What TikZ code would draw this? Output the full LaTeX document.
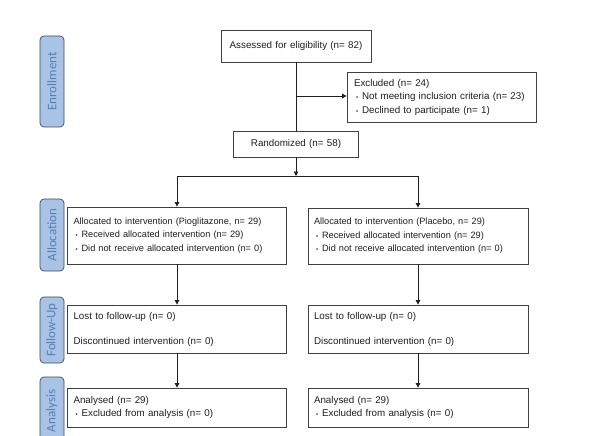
\documentclass[tikz,border=0pt]{standalone}
\usepackage{fontspec}
\setmainfont{Liberation Sans}
\newfontfamily\tabfont{Carlito}
\usetikzlibrary{arrows.meta}
\definecolor{tabfill}{HTML}{A9C3E6}
\definecolor{tabdraw}{HTML}{3F4A5C}
\definecolor{tabtext}{HTML}{5A7DB5}
\newcommand\bul{\hspace*{2pt}{\fontsize{6}{6}\selectfont\textbullet}\hspace{4pt}}
\tikzset{
  box/.style={draw=black!75, line width=0.8pt, fill=white, align=left,
    inner xsep=6pt, inner ysep=0pt, font=\fontsize{9.8}{13.5}\selectfont, text=black!88},
  smallbox/.style={box, font=\fontsize{9.2}{13.5}\selectfont},
  tab/.style={draw=tabdraw, line width=0.7pt, fill=tabfill, rounded corners=4pt, rotate=90,
    inner sep=0pt, font=\tabfont\fontsize{13}{13}\selectfont, text=tabtext},
  arr/.style={-{Triangle[length=4.5pt,width=4.5pt]}, line width=0.9pt, black!88},
  ln/.style={line width=0.9pt, black!88}
}
\begin{document}
\begin{tikzpicture}[x=1pt,y=-1pt]
\useasboundingbox (0,0) rectangle (598,436);
% tabs
\node[tab, minimum width=91pt, minimum height=24pt] (tEnr) at (52,81.5) {Enrollment};
\node[tab, minimum width=72pt, minimum height=24pt] (tAll) at (52,235) {Allocation};
\node[tab, minimum width=66pt, minimum height=24pt] (tFol) at (52,330) {Follow-Up};
\node[tab, minimum width=68pt, minimum height=24pt] (tAna) at (52,411) {Analysis};
% boxes
\node[box, align=center, text width=138pt, minimum height=32pt] (assess) at (296,46) {Assessed for eligibility (n= 82)};
\node[box, text width=175pt, minimum height=50pt, inner xsep=7pt] (excl) at (441.5,97)
  {Excluded (n= 24)\\ \bul Not meeting inclusion criteria (n= 23)\\ \bul Declined to participate (n= 1)};
\node[box, align=center, text width=113pt, minimum height=26pt] (rand) at (296,144) {Randomized (n= 58)};
\node[smallbox, text width=207pt, minimum height=57pt] (allocL) at (177,235.5)
  {Allocated to intervention (Pioglitazone, n= 29)\\ \bul Received allocated intervention (n= 29)\\ \bul Did not receive allocated intervention (n= 0)};
\node[smallbox, text width=208pt, minimum height=56pt] (allocR) at (418,236)
  {Allocated to intervention (Placebo, n= 29)\\ \bul Received allocated intervention (n= 29)\\ \bul Did not receive allocated intervention (n= 0)};
\node[box, text width=207pt, minimum height=48pt] (folL) at (177,329)
  {Lost to follow-up (n= 0)\\[11.5pt] Discontinued intervention (n= 0)};
\node[box, text width=208pt, minimum height=48pt] (folR) at (418,329)
  {Lost to follow-up (n= 0)\\[11.5pt] Discontinued intervention (n= 0)};
\node[box, text width=207pt, minimum height=39pt] (anaL) at (177,407.5)
  {Analysed (n= 29)\\ \bul Excluded from analysis (n= 0)};
\node[box, text width=208pt, minimum height=39pt] (anaR) at (418,407.5)
  {Analysed (n= 29)\\ \bul Excluded from analysis (n= 0)};
% connectors
\coordinate (br) at (296,96);
\coordinate (split) at (296,176);
\draw[ln] (assess.south) -- (rand.north);
\draw[arr] (br) -- (excl.west |- br);
\draw[arr] (rand.south) -- (split);
\draw[ln] (split -| allocL) -- (split -| allocR);
\draw[arr] (split -| allocL) -- (allocL.north);
\draw[arr] (split -| allocR) -- (allocR.north);
\draw[arr] (allocL.south) -- (folL.north);
\draw[arr] (allocR.south) -- (folR.north);
\draw[arr] (folL.south) -- (anaL.north);
\draw[arr] (folR.south) -- (anaR.north);
\end{tikzpicture}
\end{document}
